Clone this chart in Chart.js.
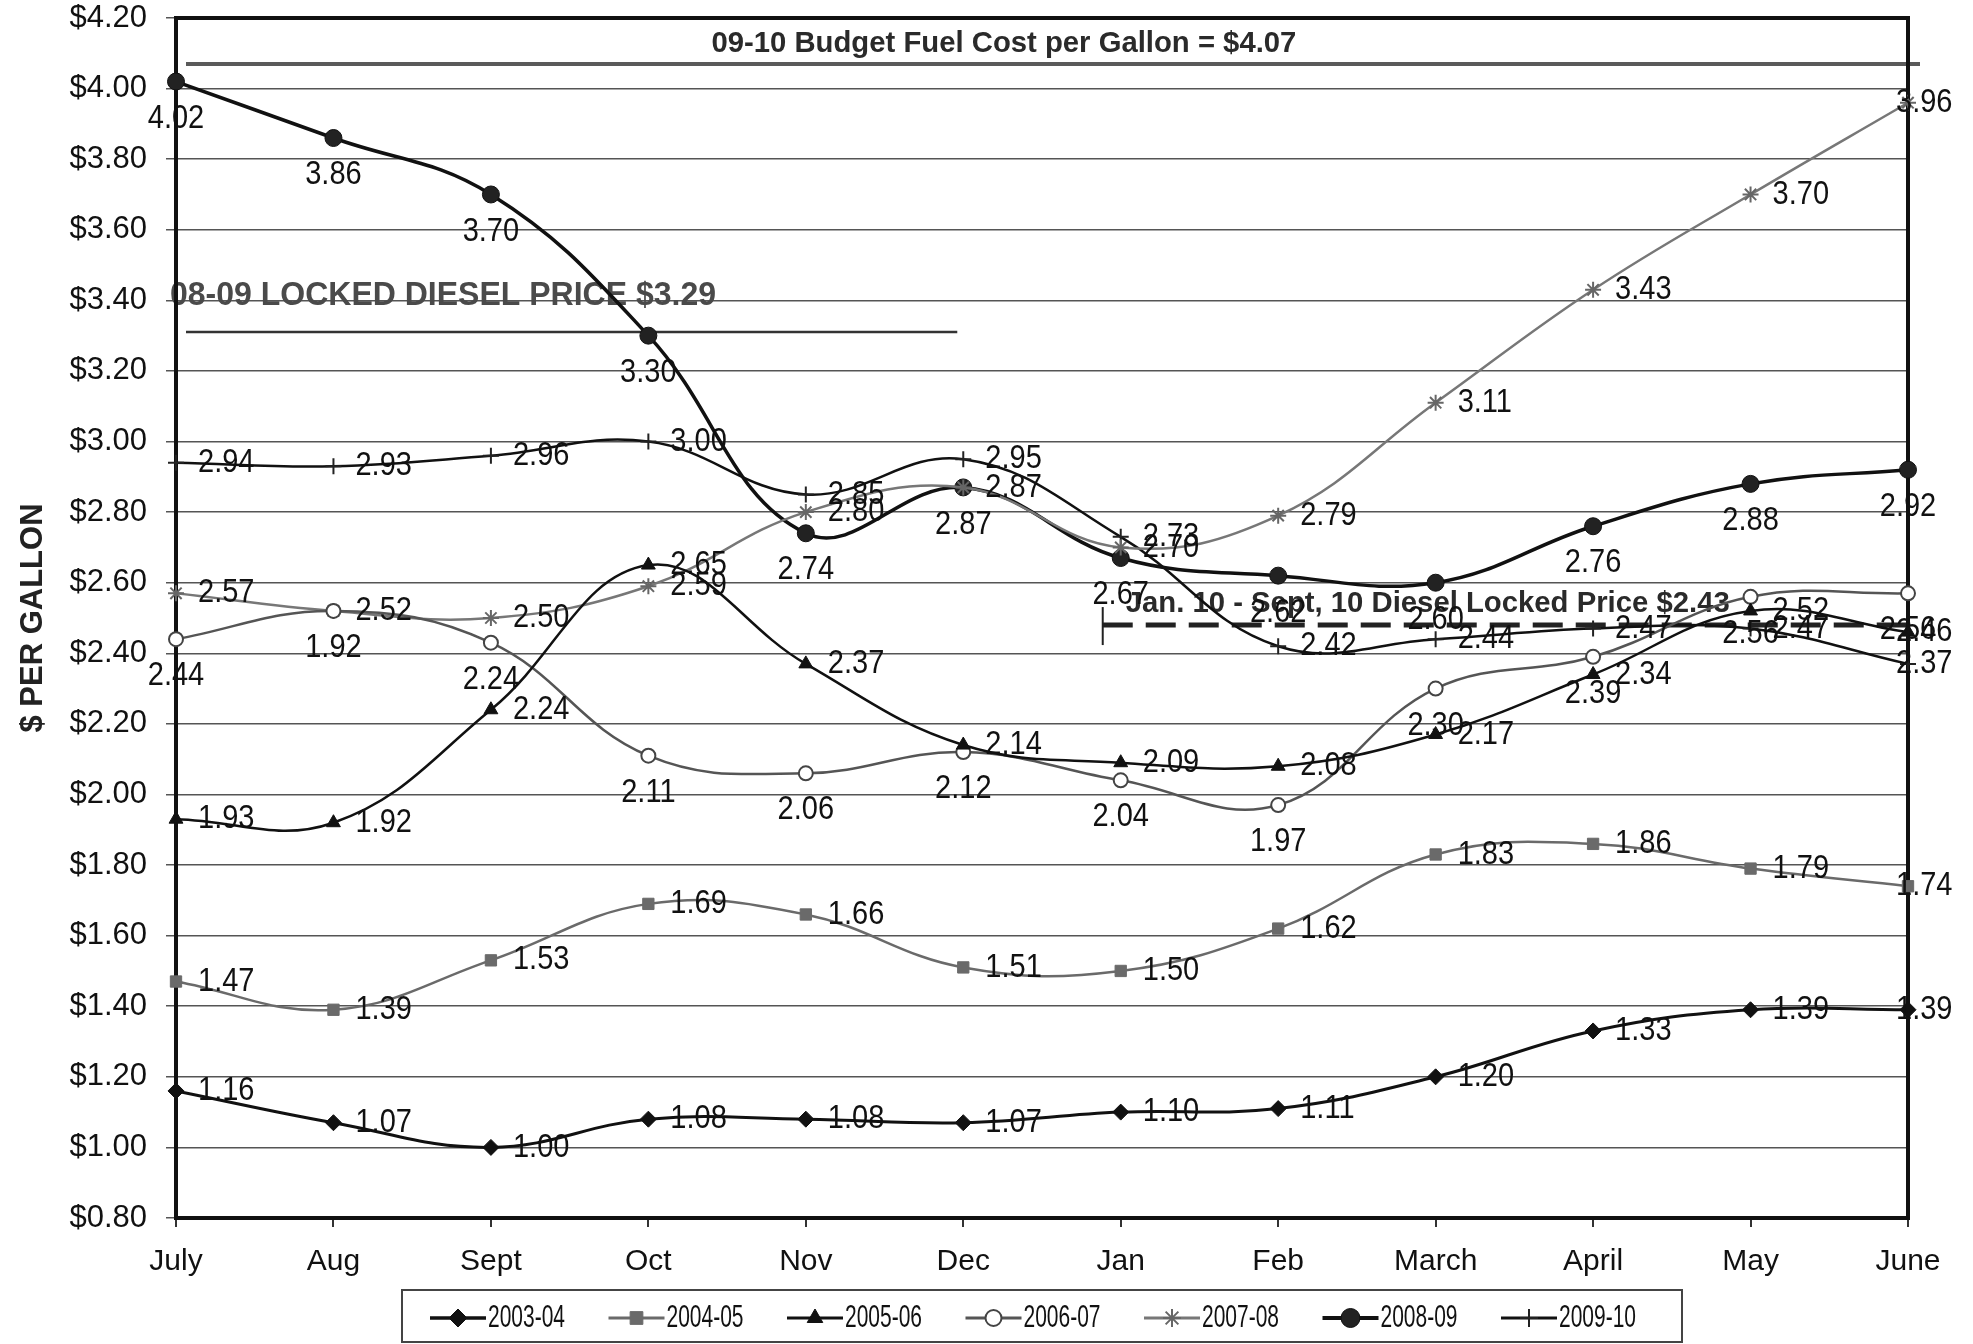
<!DOCTYPE html>
<html>
<head>
<meta charset="utf-8">
<script src="https://cdn.jsdelivr.net/npm/chart.js@4.4.1/dist/chart.umd.min.js"></script>
<style>
html, body { margin: 0; padding: 0; background: #fff; }
#wrap { width: 1973px; height: 1344px; }
</style>
</head>
<body>
<div id="wrap"><canvas id="chart" width="1973" height="1344"></canvas></div>
<script>
var months = ['July', 'Aug', 'Sept', 'Oct', 'Nov', 'Dec', 'Jan', 'Feb', 'March', 'April', 'May', 'June'];
var seriesNames = ['2003-04', '2004-05', '2005-06', '2006-07', '2007-08', '2008-09', '2009-10'];

var fy0304 = [1.16, 1.07, 1.00, 1.08, 1.08, 1.07, 1.10, 1.11, 1.20, 1.33, 1.39, 1.39];
var fy0405 = [1.47, 1.39, 1.53, 1.69, 1.66, 1.51, 1.50, 1.62, 1.83, 1.86, 1.79, 1.74];
var fy0506 = [1.93, 1.92, 2.24, 2.65, 2.37, 2.14, 2.09, 2.08, 2.17, 2.34, 2.52, 2.46];
var fy0607 = [2.44, 2.52, 2.43, 2.11, 2.06, 2.12, 2.04, 1.97, 2.30, 2.39, 2.56, 2.57];
var fy0708 = [2.57, 2.52, 2.50, 2.59, 2.80, 2.87, 2.70, 2.79, 3.11, 3.43, 3.70, 3.96];
var fy0809 = [4.02, 3.86, 3.70, 3.30, 2.74, 2.87, 2.67, 2.62, 2.60, 2.76, 2.88, 2.92];
var fy0910 = [2.94, 2.93, 2.96, 3.00, 2.85, 2.95, 2.73, 2.42, 2.44, 2.47, 2.47, 2.37];

// data labels printed on the 2006-07 line (the original shows some mismatched ones)
var labels0607 = ['2.44', '1.92', '2.24', '2.11', '2.06', '2.12', '2.04', '1.97', '2.30', '2.39', '2.56', '2.56'];

var yMin = 0.8, yMax = 4.2, yStep = 0.2;

var budgetLevel = 4.07;
var budgetText = '09-10 Budget Fuel Cost per Gallon = $4.07';
var locked0809Level = 3.31;
var locked0809Text = '08-09 LOCKED DIESEL PRICE $3.29';
var locked10Level = 2.48;
var locked10Text = 'Jan. 10 - Sept, 10 Diesel Locked Price $2.43';

var FONT = "'Liberation Sans', Arial, sans-serif";

// draw text at a given size, squeezed horizontally to a target width (or factor)
function squeezeText(ctx, text, x, y, size, weight, align, target, factor) {
	ctx.font = weight + ' ' + size + 'px ' + FONT;
	var w = ctx.measureText(text).width;
	var sx = target ? target / w : factor;
	var dx = align === 'center' ? -w * sx / 2 : 0;
	ctx.save();
	ctx.translate(x + dx, y);
	ctx.scale(sx, 1);
	ctx.textAlign = 'left';
	ctx.fillText(text, 0, 0);
	ctx.restore();
}

var datasets = [
	{label: seriesNames[0], data: fy0304, borderColor: '#111', borderWidth: 3, pointStyle: 'rectRot', pointRadius: 8, pointBackgroundColor: '#111', pointBorderColor: '#111', pointBorderWidth: 1, labelPos: 'right'},
	{label: seriesNames[1], data: fy0405, borderColor: '#6a6a6a', borderWidth: 2.5, pointStyle: 'rect', pointRadius: 8, pointBackgroundColor: '#6a6a6a', pointBorderColor: '#6a6a6a', pointBorderWidth: 1, labelPos: 'right'},
	{label: seriesNames[2], data: fy0506, borderColor: '#111', borderWidth: 2.5, pointStyle: 'triangle', pointRadius: 8, pointBackgroundColor: '#111', pointBorderColor: '#111', pointBorderWidth: 1, labelPos: 'right'},
	{label: seriesNames[3], data: fy0607, borderColor: '#555', borderWidth: 2.5, pointStyle: 'circle', pointRadius: 7, pointBackgroundColor: '#fff', pointBorderColor: '#444', pointBorderWidth: 2, labelPos: 'below', labels: labels0607},
	{label: seriesNames[4], data: fy0708, borderColor: '#777', borderWidth: 2.5, pointStyle: 'star', pointRadius: 8, pointBackgroundColor: '#666', pointBorderColor: '#666', pointBorderWidth: 2, labelPos: 'right'},
	{label: seriesNames[5], data: fy0809, borderColor: '#111', borderWidth: 3.5, pointStyle: 'circle', pointRadius: 8.5, pointBackgroundColor: '#222', pointBorderColor: '#111', pointBorderWidth: 1, labelPos: 'below'},
	{label: seriesNames[6], data: fy0910, borderColor: '#111', borderWidth: 2.5, pointStyle: 'cross', pointRadius: 8, pointBackgroundColor: '#111', pointBorderColor: '#222', pointBorderWidth: 2, labelPos: 'right'}
];
datasets.forEach(function(ds) {
	ds.tension = 0.4;
	ds.fill = false;
	ds.clip = false;
	ds.pointHoverRadius = ds.pointRadius;
});

// reference lines, their captions and the plot frame
var refLines = {
	id: 'refLines',
	beforeDatasetsDraw: function(chart) {
		var ctx = chart.ctx, a = chart.chartArea;
		var x = chart.scales.x, y = chart.scales.y;
		ctx.save();
		// budget line
		ctx.strokeStyle = '#5a5a5a';
		ctx.lineWidth = 4;
		ctx.beginPath();
		ctx.moveTo(a.left + 10, y.getPixelForValue(budgetLevel));
		ctx.lineTo(a.right + 12, y.getPixelForValue(budgetLevel));
		ctx.stroke();
		// 08-09 locked price
		ctx.strokeStyle = '#333';
		ctx.lineWidth = 2.5;
		ctx.beginPath();
		ctx.moveTo(a.left + 10, y.getPixelForValue(locked0809Level));
		ctx.lineTo(x.getPixelForValue(5) - 6, y.getPixelForValue(locked0809Level));
		ctx.stroke();
		// Jan 10 - Sept 10 locked price (dashed)
		var ly = y.getPixelForValue(locked10Level);
		var lx = x.getPixelForValue(6) - 18;
		ctx.strokeStyle = '#222';
		ctx.lineWidth = 2;
		ctx.beginPath();
		ctx.moveTo(lx, ly - 18);
		ctx.lineTo(lx, ly + 20);
		ctx.stroke();
		ctx.lineWidth = 5;
		ctx.setLineDash([30, 13]);
		ctx.beginPath();
		ctx.moveTo(lx, ly);
		ctx.lineTo(a.right, ly);
		ctx.stroke();
		ctx.setLineDash([]);
		// captions
		ctx.textBaseline = 'middle';
		ctx.fillStyle = '#2a2a2a';
		squeezeText(ctx, budgetText, a.left + 0.478 * (a.right - a.left), y.getPixelForValue(budgetLevel) - 20, 30, 'bold', 'center', 585);
		ctx.fillStyle = '#4a4a4a';
		squeezeText(ctx, locked0809Text, a.left - 6, y.getPixelForValue(locked0809Level) - 36, 34, 'bold', 'left', 546);
		ctx.fillStyle = '#2a2a2a';
		squeezeText(ctx, locked10Text, lx + 23, ly - 21, 30, 'bold', 'left', 604);
		// plot frame
		ctx.strokeStyle = '#111';
		ctx.lineWidth = 4;
		ctx.strokeRect(a.left, a.top, a.right - a.left, a.bottom - a.top);
		ctx.restore();
	}
};

// value labels next to / below the points
var valueLabels = {
	id: 'valueLabels',
	afterDatasetsDraw: function(chart) {
		var ctx = chart.ctx;
		ctx.save();
		ctx.fillStyle = '#111';
		ctx.textBaseline = 'middle';
		chart.data.datasets.forEach(function(ds, i) {
			var meta = chart.getDatasetMeta(i);
			meta.data.forEach(function(pt, j) {
				var txt = ds.labels ? ds.labels[j] : ds.data[j].toFixed(2);
				if (ds.labelPos === 'below') {
					squeezeText(ctx, txt, pt.x, pt.y + 37, 33, 'normal', 'center', 0, 0.88);
				} else {
					var off = j === ds.data.length - 1 ? -12 : 22;
					squeezeText(ctx, txt, pt.x + off, pt.y, 33, 'normal', 'left', 0, 0.88);
				}
			});
		});
		ctx.restore();
	}
};

// boxed legend with line + marker samples
var legendBox = {
	id: 'legendBox',
	afterDraw: function(chart) {
		var ctx = chart.ctx, a = chart.chartArea;
		var boxW = 1280, boxH = 52, step = 178.5;
		var left = (a.left + a.right) / 2 - boxW / 2;
		var top = a.bottom + 72;
		ctx.save();
		ctx.strokeStyle = '#444';
		ctx.lineWidth = 2;
		ctx.strokeRect(left, top, boxW, boxH);
		var cy = top + boxH / 2 + 2;
		chart.data.datasets.forEach(function(ds, i) {
			var mx = left + 56 + step * i;
			ctx.strokeStyle = ds.borderColor;
			ctx.lineWidth = ds.borderWidth + 0.5;
			ctx.beginPath();
			ctx.moveTo(mx - 28, cy);
			ctx.lineTo(mx + 28, cy);
			ctx.stroke();
			ctx.fillStyle = ds.pointBackgroundColor;
			ctx.strokeStyle = ds.pointBorderColor;
			ctx.lineWidth = ds.pointBorderWidth;
			Chart.helpers.drawPoint(ctx, {pointStyle: ds.pointStyle, radius: ds.pointRadius + 1, borderWidth: ds.pointBorderWidth, rotation: 0}, mx, cy);
			ctx.fillStyle = '#111';
			ctx.textBaseline = 'middle';
			squeezeText(ctx, ds.label, mx + 30, cy, 31, 'normal', 'left', 77);
		});
		ctx.restore();
	}
};

var chart = new Chart(document.getElementById('chart'), {
	type: 'line',
	data: {labels: months, datasets: datasets},
	plugins: [refLines, valueLabels, legendBox],
	options: {
		responsive: false,
		animation: false,
		devicePixelRatio: 1,
		layout: {padding: {top: 18, left: 0, right: 65, bottom: 46}},
		plugins: {
			legend: {display: false},
			tooltip: {enabled: false}
		},
		scales: {
			x: {
				type: 'category',
				offset: false,
				border: {display: false},
				grid: {drawOnChartArea: false, drawTicks: true, tickLength: 9, color: '#333', lineWidth: 2},
				ticks: {color: '#111', font: {family: FONT, size: 30}, padding: 17, maxRotation: 0, autoSkip: false},
				afterFit: function(scale) {
					scale.height = 80;
					scale.paddingLeft = 0;
					scale.paddingRight = 0;
				}
			},
			y: {
				min: yMin,
				max: yMax,
				border: {display: false},
				grid: {color: '#555', lineWidth: 1.5, tickLength: 10},
				ticks: {
					stepSize: yStep,
					color: '#111',
					font: {family: FONT, size: 31},
					padding: 19,
					callback: function(v) { return '$' + Number(v).toFixed(2); }
				},
				title: {
					display: true,
					text: '$ PER GALLON',
					color: '#222',
					font: {family: FONT, size: 31, weight: 'bold'},
					padding: {top: 15, bottom: 0}
				},
				afterFit: function(scale) {
					scale.width = 176;
					scale.paddingTop = 0;
					scale.paddingBottom = 0;
				}
			}
		}
	}
});
</script>
</body>
</html>
